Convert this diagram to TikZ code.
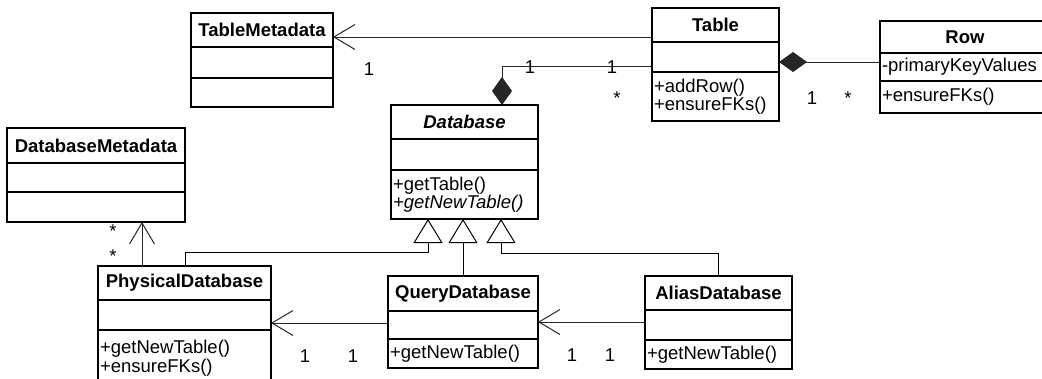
\documentclass[tikz,border=0pt]{standalone}
\usepackage{fontspec}
\setmainfont{Liberation Sans}
\usetikzlibrary{arrows.meta}

\newcommand{\clsfont}{\fontsize{18.5}{18.5}\selectfont}

\tikzset{
  cls/.style={draw, line width=1.2pt, anchor=north west, inner sep=0pt, outer sep=0pt, minimum width=#1},
  title/.style={font=\clsfont\bfseries},
  ops/.style={align=left, inner xsep=2pt},
  assoc/.style={line width=1pt, draw=black!85, -{Straight Barb[length=21pt, width=25pt]}},
  gener/.style={line width=1pt, -{Triangle[length=24pt, width=29pt, fill=white]}},
  compo/.style={line width=1pt, draw=black!85, -{Diamond[length=28pt, width=20pt]}},
  mult/.style={anchor=base, inner sep=0pt}
}

\begin{document}
\begin{tikzpicture}[x=1pt, y=-1pt, every node/.style={font=\clsfont}]
  \useasboundingbox (0,0) rectangle (1042,378);
  \fill[white] (0,0) rectangle (1042,378);
  \clip (0,0) rectangle (1042,378);

  % TableMetadata
  \node[cls=142pt, minimum height=34pt, title] (tmeta) at (191,13) {TableMetadata};
  \node[cls=142pt, minimum height=31pt] (tmeta-at) at (tmeta.south west) {};
  \node[cls=142pt, minimum height=29pt] (tmeta-op) at (tmeta-at.south west) {};

  % Table
  \node[cls=127pt, minimum height=34pt, title] (tbl) at (652,8) {Table};
  \node[cls=127pt, minimum height=30pt] (tbl-at) at (tbl.south west) {};
  \node[cls=127pt, minimum height=49pt, ops, text width=123pt] (tbl-op) at (tbl-at.south west) {+addRow()\\+ensureFKs()};

  % Row
  \node[cls=170pt, minimum height=32pt, title] (row) at (880,21) {Row};
  \node[cls=170pt, minimum height=28pt, ops, text width=166pt] (row-at) at (row.south west) {-primaryKeyValues};
  \node[cls=170pt, minimum height=32pt, ops, text width=166pt] (row-op) at (row-at.south west) {+ensureFKs()};

  % Database
  \node[cls=147pt, minimum height=34pt, title, font=\clsfont\bfseries\itshape] (db) at (391,105) {Database};
  \node[cls=147pt, minimum height=31pt] (db-at) at (db.south west) {};
  \node[cls=147pt, minimum height=49pt, ops, text width=143pt] (db-op) at (db-at.south west) {+getTable()\\\textit{+getNewTable()}};

  % DatabaseMetadata
  \node[cls=178pt, minimum height=35pt, title] (dbmeta) at (7,128) {DatabaseMetadata};
  \node[cls=178pt, minimum height=29pt] (dbmeta-at) at (dbmeta.south west) {};
  \node[cls=178pt, minimum height=30pt] (dbmeta-op) at (dbmeta-at.south west) {};

  % PhysicalDatabase
  \node[cls=173pt, minimum height=34pt, title] (pdb) at (98,266) {PhysicalDatabase};
  \node[cls=173pt, minimum height=30pt] (pdb-at) at (pdb.south west) {};
  \node[cls=173pt, minimum height=56pt, ops, text width=169pt] (pdb-op) at (pdb-at.south west) {+getNewTable()\\+ensureFKs()};

  % QueryDatabase
  \node[cls=150pt, minimum height=35pt, title] (qdb) at (388,276) {QueryDatabase};
  \node[cls=150pt, minimum height=28pt] (qdb-at) at (qdb.south west) {};
  \node[cls=150pt, minimum height=29pt, ops, text width=146pt] (qdb-op) at (qdb-at.south west) {+getNewTable()};

  % AliasDatabase
  \node[cls=147pt, minimum height=34pt, title] (adb) at (645,276) {AliasDatabase};
  \node[cls=147pt, minimum height=30pt] (adb-at) at (adb.south west) {};
  \node[cls=147pt, minimum height=29pt, ops, text width=143pt] (adb-op) at (adb-at.south west) {+getNewTable()};

  % end points of the connectors
  \coordinate (t1) at ([yshift=-12pt]tbl.west);
  \coordinate (r1) at ([yshift=5pt]row-at.west);
  \coordinate (d1) at ([yshift=-9pt]tbl-at.west);
  \coordinate (d2) at ([xshift=37.5pt]db.north);
  \coordinate (p1) at ([xshift=44pt]pdb.north west);
  \coordinate (q1) at ([yshift=2pt]qdb-at.west);
  \coordinate (a1) at ([yshift=3pt]adb-at.west);
  \coordinate (g1) at ([xshift=-36.5pt]db-op.south);
  \coordinate (g3) at ([xshift=36.5pt]db-op.south);

  % associations and compositions
  \draw[assoc] (t1) -- (t1 -| tmeta.east);
  \draw[compo] (r1) -- (r1 -| tbl-at.east);
  \draw[compo] (d1) -| (d2);
  \draw[assoc] (p1) -- (p1 |- dbmeta-op.south);
  \draw[assoc] (q1) -- (q1 -| pdb-at.east);
  \draw[assoc] (a1) -- (a1 -| qdb-at.east);

  % generalizations
  \draw[gener] ([xshift=87pt]pdb.north west) |- ([yshift=-33pt]g1) -- (g1);
  \draw[gener] (qdb.north) -- (qdb.north |- db-op.south);
  \draw[gener] (adb.north) |- ([yshift=-34pt]g3) -- (g3);

  % multiplicities
  \node[mult] (m1) at (369,75) {1};
  \node[mult] (m2) at (530,73) {1};
  \node[mult] (m3) at (612,73) {1};
  \node[mult] (m4) at (617,104) {*};
  \node[mult] (m5) at (812,104) {1};
  \node[mult] (m6) at (848,104) {*};
  \node[mult] (m7) at (113,237) {*};
  \node[mult] (m8) at (113,262) {*};
  \node[mult] (m9) at (305,362) {1};
  \node[mult] (m10) at (353,362) {1};
  \node[mult] (m11) at (572,361) {1};
  \node[mult] (m12) at (610,361) {1};
\end{tikzpicture}
\end{document}
